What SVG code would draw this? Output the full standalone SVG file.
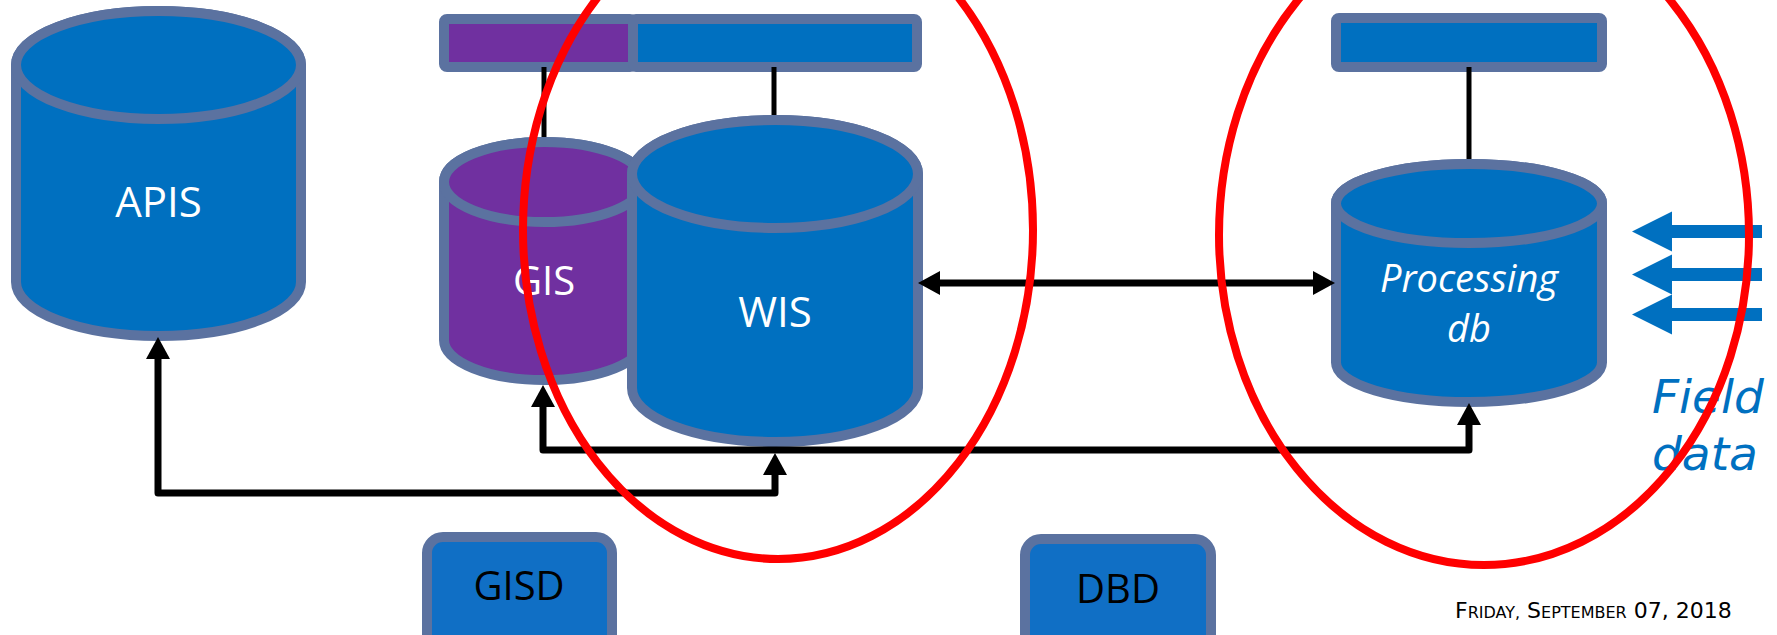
<svg xmlns="http://www.w3.org/2000/svg" width="1777" height="635" viewBox="0 0 1777 635">
<style>
.cyl{stroke:#5B72A0;stroke-width:10;stroke-linejoin:round}
.blue{fill:#0070C0}
.purple{fill:#7030A0}
.bar{stroke:#5B72A0;stroke-width:10}
.lbl{font-family:"Open Sans","Noto Sans",sans-serif;fill:#FFFFFF;text-anchor:middle}
.tie{stroke:#000;stroke-width:5;fill:none}
.conn{stroke:#000;stroke-width:7;fill:none;stroke-linejoin:round}
.box{fill:#106FC5;stroke:#5B72A0;stroke-width:10}
.boxlbl{font-family:"Open Sans","Noto Sans",sans-serif;font-size:40px;fill:#000;text-anchor:middle}
.ring{fill:none;stroke:#FF0000;stroke-width:8}
.field{fill:#0070C0}
</style>
<defs>
<marker id="ah" markerUnits="userSpaceOnUse" markerWidth="24" markerHeight="24" viewBox="0 0 22 24" refX="0" refY="12" orient="auto-start-reverse">
<path d="M0,0 L22,12 L0,24 Z" fill="#000"/>
</marker>
</defs>

<g id="apis">
<path class="cyl blue" d="M16,65 L16,282 A142.5,54 0 0 0 301,282 L301,65 A142.5,54 0 0 0 16,65 Z"/>
<ellipse class="cyl blue" cx="158.5" cy="65" rx="142.5" ry="54"/>
<text class="lbl" x="158.5" y="217" font-size="42">APIS</text>
</g>

<g id="gis">
<rect class="bar purple" x="444" y="19" width="189" height="48" rx="3"/>
<line class="tie" x1="544" y1="67" x2="544" y2="143"/>
<path class="cyl purple" d="M444,182 L444,340 A100,40 0 0 0 644,340 L644,182 A100,40 0 0 0 444,182 Z"/>
<ellipse class="cyl purple" cx="544" cy="182" rx="100" ry="40"/>
<text class="lbl" x="544" y="295" font-size="40">GIS</text>
</g>

<g id="wis">
<rect class="bar blue" x="633" y="19" width="284" height="48" rx="3"/>
<line class="tie" x1="774" y1="67" x2="774" y2="121"/>
<path class="cyl blue" d="M632,174 L632,388 A143,54 0 0 0 918,388 L918,174 A143,54 0 0 0 632,174 Z"/>
<ellipse class="cyl blue" cx="775" cy="174" rx="143" ry="54"/>
<text class="lbl" x="775" y="327" font-size="42">WIS</text>
</g>

<g id="processing-db">
<rect class="bar blue" x="1336" y="18" width="266" height="49" rx="3"/>
<line class="tie" x1="1469" y1="67" x2="1469" y2="164"/>
<path class="cyl blue" d="M1336,203.5 L1336,362.5 A133,39.5 0 0 0 1602,362.5 L1602,203.5 A133,39.5 0 0 0 1336,203.5 Z"/>
<ellipse class="cyl blue" cx="1469" cy="203.5" rx="133" ry="39.5"/>
<text class="lbl" x="1469" y="292" font-size="38" font-style="italic">Processing</text>
<text class="lbl" x="1469" y="342" font-size="38" font-style="italic">db</text>
</g>

<g id="connectors">
<path class="conn" d="M940,283 L1313,283" marker-start="url(#ah)" marker-end="url(#ah)"/>
<path class="conn" d="M158,359 L158,493 L775,493 L775,475" marker-start="url(#ah)" marker-end="url(#ah)"/>
<path class="conn" d="M543,407 L543,450 L1469,450 L1469,425" marker-start="url(#ah)" marker-end="url(#ah)"/>
</g>

<g id="field-data">
<polygon class="field" points="1632,231.5 1672,211.5 1672,225 1762,225 1762,238 1672,238 1672,251.5"/>
<polygon class="field" points="1632,274.5 1672,254.5 1672,268 1762,268 1762,281 1672,281 1672,294.5"/>
<polygon class="field" points="1632,314.5 1672,294.5 1672,308 1762,308 1762,321 1672,321 1672,334.5"/>
<text x="1652" y="413" font-family="'DejaVu Sans',Verdana,sans-serif" font-style="italic" font-size="47" fill="#0070C0">Field</text>
<text x="1652" y="470" font-family="'DejaVu Sans',Verdana,sans-serif" font-style="italic" font-size="47" fill="#0070C0">data</text>
</g>

<g id="gisd">
<rect class="box" x="427" y="537" width="185" height="120" rx="16"/>
<text class="boxlbl" x="519" y="600">GISD</text>
</g>

<g id="dbd">
<rect class="box" x="1025" y="539" width="186" height="120" rx="16"/>
<text class="boxlbl" x="1118" y="603">DBD</text>
</g>

<g id="date">
<text x="1455" y="618" font-family="'DejaVu Sans',Tahoma,sans-serif" fill="#000"><tspan font-size="22">F</tspan><tspan font-size="16">RIDAY,</tspan><tspan font-size="22"> S</tspan><tspan font-size="16">EPTEMBER</tspan><tspan font-size="22"> 07, 2018</tspan></text>
</g>

<g id="highlights">
<ellipse class="ring" cx="778" cy="230" rx="255" ry="329"/>
<ellipse class="ring" cx="1484" cy="235" rx="265" ry="330"/>
</g>
</svg>
